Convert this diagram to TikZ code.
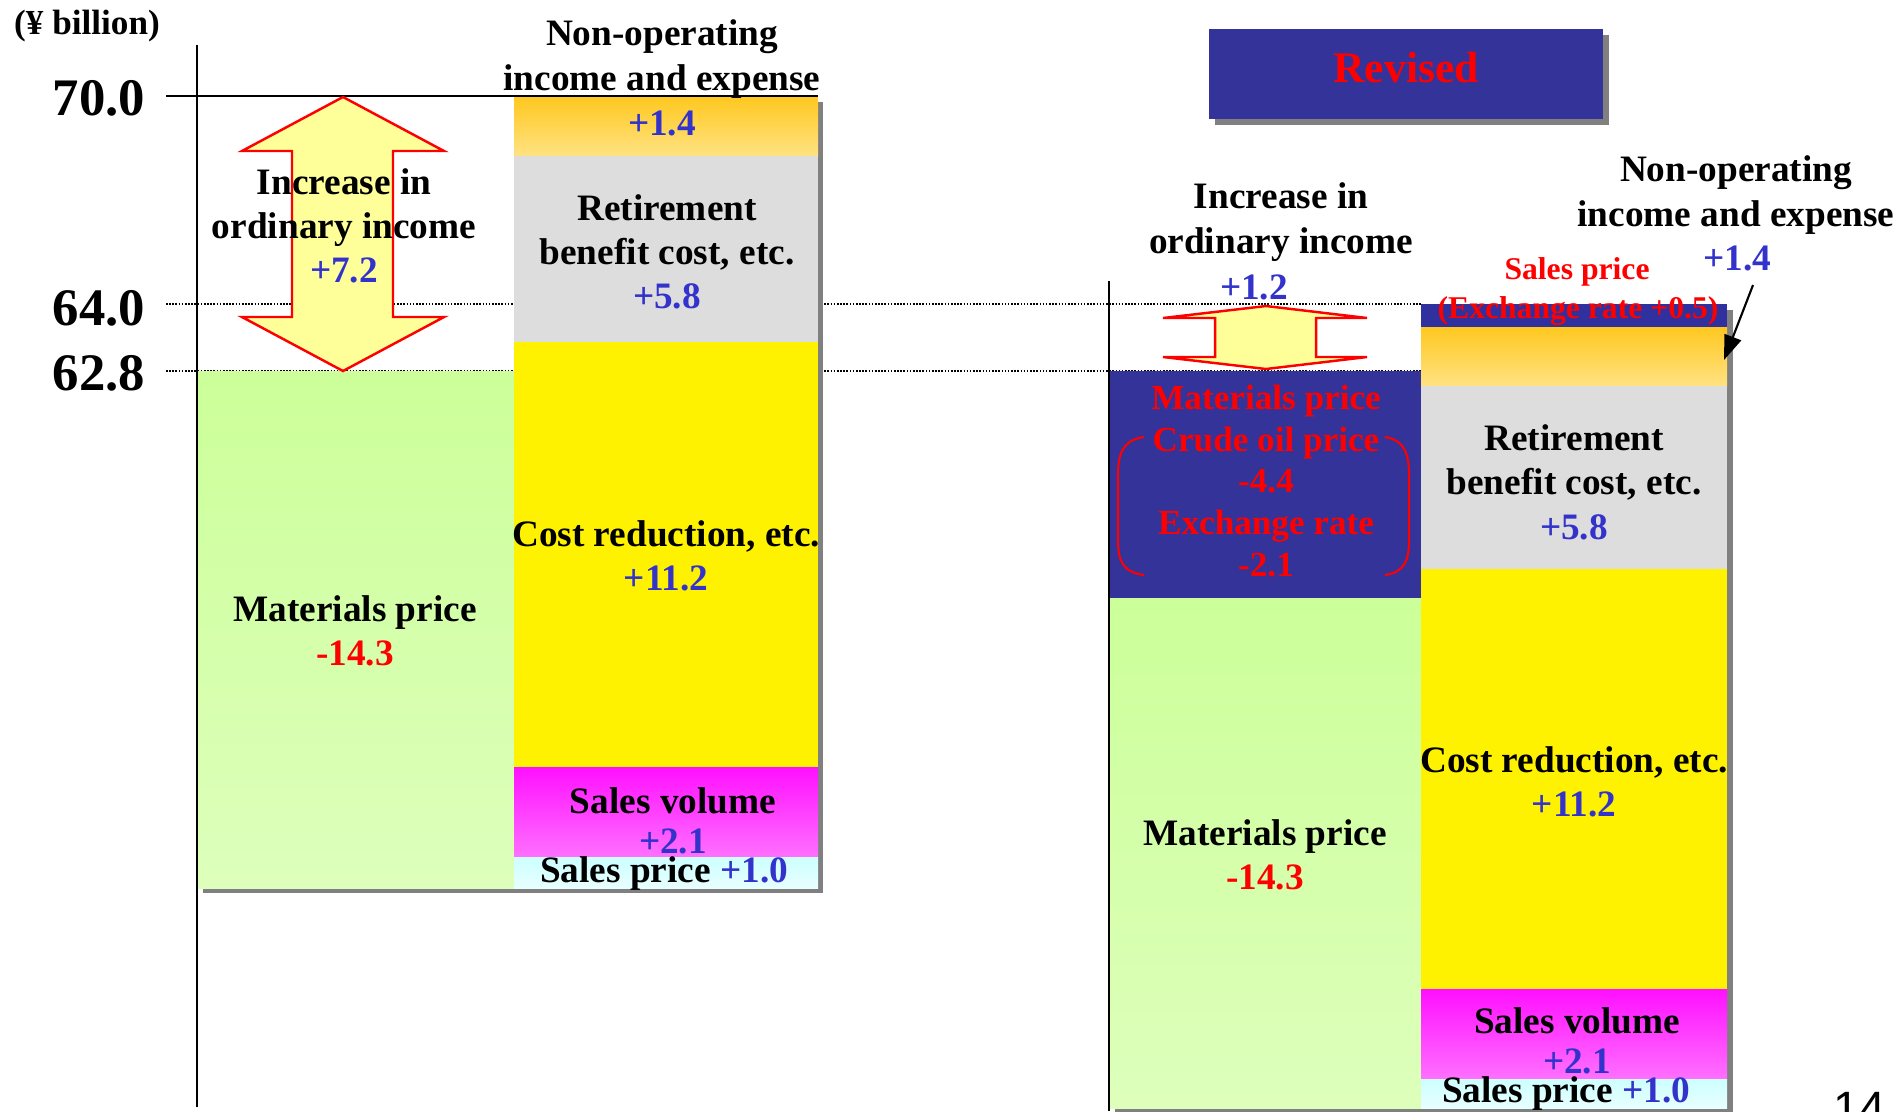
\documentclass[tikz,border=0pt]{standalone}
\usepackage{fontspec}
\setmainfont{Liberation Serif}
\newfontfamily\pagenumfont{Liberation Sans}
\usetikzlibrary{arrows.meta}
\definecolor{navyblue}{RGB}{51,51,153}
\definecolor{valueblue}{RGB}{51,51,204}
\definecolor{shadowgray}{RGB}{128,128,128}
\definecolor{greentop}{RGB}{204,255,153}
\definecolor{greenbot}{RGB}{221,255,187}
\definecolor{orangetop}{RGB}{255,200,32}
\definecolor{orangebot}{RGB}{255,226,130}
\definecolor{retiregray}{RGB}{221,221,221}
\definecolor{magentatop}{RGB}{255,16,255}
\definecolor{magentabot}{RGB}{255,112,255}
\definecolor{cyantop}{RGB}{204,255,255}
\definecolor{cyanbot}{RGB}{232,255,255}
\definecolor{arrowfill}{RGB}{255,255,153}

\tikzset{
  barlabel/.style={font=\bfseries\fontsize{10.6}{12.6}\selectfont, align=center, inner sep=0pt},
  tightlabel/.style={font=\bfseries\fontsize{10.6}{11.4}\selectfont, align=center, inner sep=0pt},
  redlabel/.style={font=\bfseries\fontsize{10}{11.9}\selectfont, align=center, inner sep=0pt, text=red},
  smallred/.style={font=\bfseries\fontsize{9}{11}\selectfont, inner sep=0pt, text=red},
  ticklabel/.style={font=\bfseries\fontsize{15}{18}\selectfont, anchor=east, inner sep=0pt},
  gridline/.style={line width=0.45pt, dash pattern=on 0.45pt off 0.45pt},
  axisline/.style={line width=0.6pt},
  bigarrow/.style={fill=arrowfill, draw=red, line width=0.7pt},
}

\begin{document}
\begin{tikzpicture}[x=0.01cm, y=-0.01cm, >=Stealth]
    \clip (0,0) rectangle (1898,1111);

    % Unit and scale
    \node[font=\bfseries\fontsize{10}{12}\selectfont, inner sep=0pt] (unit) at (87,26) {(¥ billion)};
    \node[ticklabel] (tick70) at (146,98) {70.0};
    \node[ticklabel] (tick64) at (146,308) {64.0};
    \node[ticklabel] (tick628) at (146,373) {62.8};

    % Reference lines
    \draw[gridline] (166,304) -- (1421,304);
    \draw[gridline] (166,371) -- (1421,371);

    % Shadows
    \fill[shadowgray] (203,377) rectangle (823,893);
    \fill[shadowgray] (520,102) rectangle (823,893);
    \fill[shadowgray] (1115,377) rectangle (1733,1117);
    \fill[shadowgray] (1427,310) rectangle (1733,1117);
    \fill[shadowgray] (1215,35) rectangle (1609,125);

    % Left bars
    \shade[top color=greentop, bottom color=greenbot] (197,371) rectangle (514,888);
    \shade[top color=orangetop, bottom color=orangebot] (514,97) rectangle (818,156);
    \fill[retiregray] (514,156) rectangle (818,342);
    \fill[yellow] (514,342) rectangle (818,767);
    \shade[top color=magentatop, bottom color=magentabot] (514,767) rectangle (818,857);
    \shade[top color=cyantop, bottom color=cyanbot] (514,857) rectangle (818,888);

    % Right bars
    \fill[navyblue] (1109,371) rectangle (1421,598);
    \shade[top color=greentop, bottom color=greenbot] (1109,598) rectangle (1421,1108);
    \fill[navyblue!95!blue] (1421,304) rectangle (1727,327);
    \shade[top color=orangetop, bottom color=orangebot] (1421,327) rectangle (1727,386);
    \fill[retiregray] (1421,386) rectangle (1727,569);
    \fill[yellow] (1421,569) rectangle (1727,989);
    \shade[top color=magentatop, bottom color=magentabot] (1421,989) rectangle (1727,1079);
    \shade[top color=cyantop, bottom color=cyanbot] (1421,1079) rectangle (1727,1108);

    % Axes
    \draw[axisline] (166,96) -- (818,96);
    \draw[axisline] (197,45) -- (197,1107);
    \draw[axisline] (1109,281) -- (1109,1111);

    % Increase arrows
    \draw[bigarrow] (343,97) -- (444,151) -- (393,151) -- (393,317) -- (444,317)
        -- (343,371) -- (242,317) -- (292,317) -- (292,151) -- (242,151) -- cycle;
    \draw[bigarrow] (1266,306) -- (1367,318) -- (1316,318) -- (1316,357) -- (1367,357)
        -- (1266,369) -- (1163,357) -- (1215,357) -- (1215,318) -- (1163,318) -- cycle;

    % Revised box
    \fill[navyblue] (1209,29) rectangle (1603,119);
    \node[font=\bfseries\fontsize{12.4}{14}\selectfont, text=red, inner sep=0pt] (revised) at (1406,68) {Revised};

    % Left labels
    \node[barlabel] (oldincrease) at (344,226) {Increase in\\ordinary income\\\textcolor{valueblue}{+7.2}};
    \node[barlabel] (oldnonop) at (662,59) {Non-operating\\income and expense};
    \node[barlabel, text=valueblue] (oldnonopval) at (662,123) {+1.4};
    \node[barlabel] (oldretire) at (667,252) {Retirement\\benefit cost, etc.\\\textcolor{valueblue}{+5.8}};
    \node[barlabel] (oldcost) at (666,556) {Cost reduction, etc.\\\textcolor{valueblue}{+11.2}};
    \node[tightlabel] (oldvolume) at (673,821) {Sales volume\\\textcolor{valueblue}{+2.1}};
    \node[barlabel] (oldprice) at (664,874) {Sales price \textcolor{valueblue}{+1.0}};
    \node[barlabel] (oldmaterials) at (355,631) {Materials price\\\textcolor{red}{-14.3}};

    % Right labels
    \node[barlabel] (newincrease) at (1281,222) {Increase in\\ordinary income};
    \node[barlabel, text=valueblue] (newincreaseval) at (1254,287) {+1.2};
    \node[barlabel] (newnonop) at (1736,195) {Non-operating\\income and expense};
    \node[barlabel, text=valueblue] (newnonopval) at (1737,258) {+1.4};
    \node[smallred] (newsalesprice) at (1577,272) {Sales price};
    \node[smallred] (newexchange) at (1578,311) {(Exchange rate +0.5)};
    \node[redlabel] (navytext) at (1266,481) {Materials price\\Crude oil price\\-4.4\\Exchange rate\\-2.1};
    \node[barlabel] (newmaterials) at (1265,855) {Materials price\\\textcolor{red}{-14.3}};
    \node[barlabel] (newretire) at (1574,482) {Retirement\\benefit cost, etc.\\\textcolor{valueblue}{+5.8}};
    \node[barlabel] (newcost) at (1574,782) {Cost reduction, etc.\\\textcolor{valueblue}{+11.2}};
    \node[tightlabel] (newvolume) at (1577,1041) {Sales volume\\\textcolor{valueblue}{+2.1}};
    \node[barlabel] (newprice) at (1566,1094) {Sales price \textcolor{valueblue}{+1.0}};

    % Brackets round the breakdown
    \draw[red, line width=0.6pt] (1144,437) .. controls (1122,440) and (1118,455) .. (1118,475)
        -- (1118,540) .. controls (1118,560) and (1122,572) .. (1144,575);
    \draw[red, line width=0.6pt] (1385,437) .. controls (1405,440) and (1409,455) .. (1409,475)
        -- (1409,540) .. controls (1409,560) and (1405,572) .. (1385,575);

    % Pointer to non-operating segment
    \coordinate (nonoptail) at (1753,285);
    \coordinate (nonoptip) at (1724,360);
    \draw[line width=0.6pt, -{Triangle[length=7pt, width=5pt]}] (nonoptail) -- (nonoptip);

    % Page number
    \node[font=\pagenumfont\fontsize{13.3}{16}\selectfont, anchor=base west, inner sep=0pt] (pagenum) at (1833,1124) {14};
\end{tikzpicture}
\end{document}
